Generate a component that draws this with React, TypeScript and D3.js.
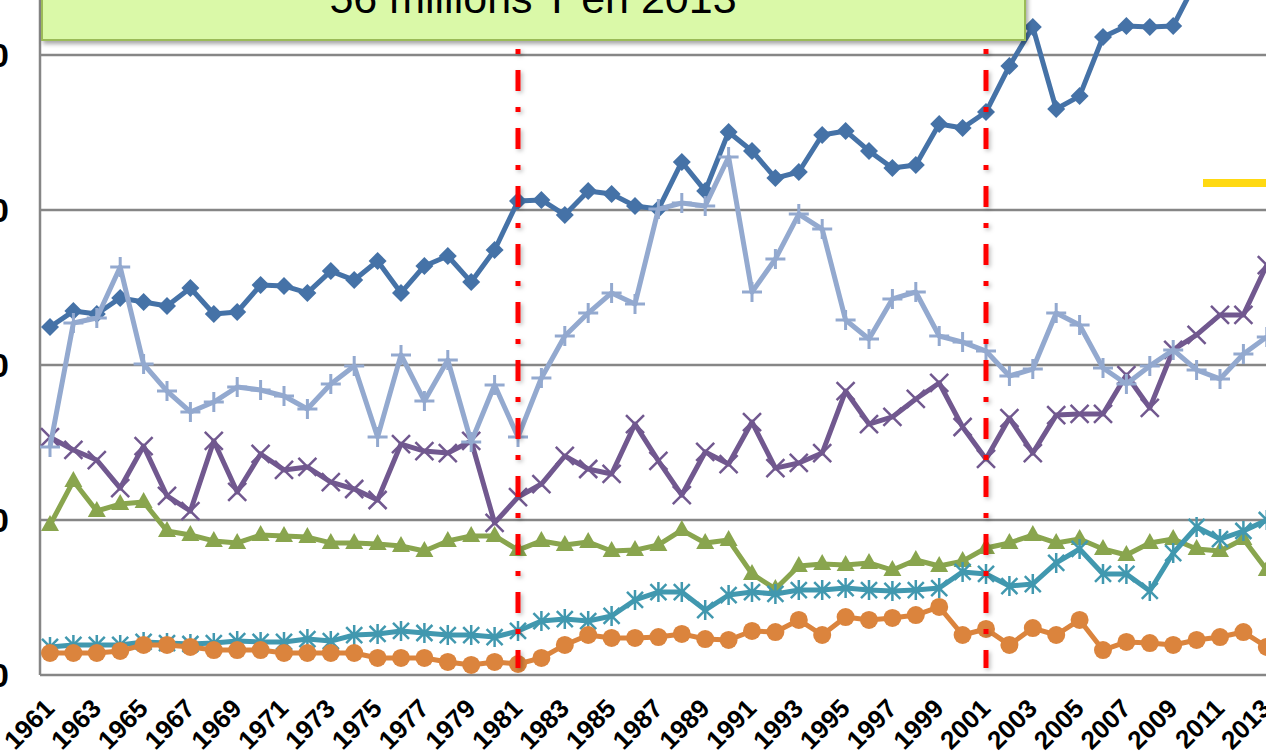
import * as React from 'react';
import * as d3 from 'd3';

// years 1961..2013
const years: number[] = d3.range(1961, 2014);

// values (millions T)
const serieBleu = [22.45, 23.48, 23.29, 24.32, 24.06, 23.81, 24.97, 23.29, 23.42, 25.16,
  25.10, 24.65, 26.06, 25.48, 26.71, 24.65, 26.39, 27.03, 25.35, 27.42,
  30.58, 30.65, 29.68, 31.23, 31.03, 30.26, 30.06, 33.10, 31.23, 35.03,
  33.81, 32.06, 32.45, 34.84, 35.10, 33.81, 32.71, 32.90, 35.55, 35.29,
  36.32, 39.29, 41.81, 36.52, 37.35, 41.16, 41.87, 41.81, 41.87, 44.8,
  46.5, 50.5, 56];
const serieVert = [9.68, 12.52, 10.58, 11.03, 11.16, 9.29, 9.03, 8.65, 8.52, 9.03,
  8.97, 8.90, 8.52, 8.52, 8.45, 8.32, 8.0, 8.65, 8.97, 8.97,
  8.06, 8.65, 8.39, 8.58, 8.0, 8.06, 8.39, 9.35, 8.52, 8.71,
  6.52, 5.55, 7.03, 7.16, 7.10, 7.23, 6.77, 7.42, 7.03, 7.35,
  8.19, 8.52, 9.03, 8.52, 8.77, 8.13, 7.74, 8.52, 8.77, 8.13,
  8.0, 8.77, 6.77];
const serieViolet = [15.35, 14.52, 13.87, 12.06, 14.77, 11.55, 10.58, 15.10, 11.81, 14.26,
  13.23, 13.42, 12.45, 12.0, 11.29, 14.90, 14.45, 14.32, 15.10, 9.81,
  11.48, 12.32, 14.13, 13.29, 12.97, 16.19, 13.81, 11.61, 14.39, 13.61,
  16.32, 13.35, 13.68, 14.32, 18.32, 16.19, 16.65, 17.81, 18.84, 16.0,
  13.94, 16.58, 14.32, 16.77, 16.84, 16.84, 19.35, 17.23, 20.97, 21.94,
  23.23, 23.23, 26.45];
const serieTurquoise = [1.81, 1.94, 1.94, 1.94, 2.13, 2.06, 2.0, 2.06, 2.19, 2.13,
  2.13, 2.32, 2.19, 2.58, 2.65, 2.84, 2.71, 2.58, 2.58, 2.45,
  2.84, 3.48, 3.61, 3.48, 3.81, 4.84, 5.35, 5.35, 4.19, 5.16,
  5.35, 5.23, 5.48, 5.48, 5.61, 5.48, 5.42, 5.48, 5.61, 6.65,
  6.52, 5.74, 5.87, 7.23, 8.13, 6.52, 6.52, 5.42, 7.87, 9.55,
  8.77, 9.29, 10.0];
const serieOrange = [1.42, 1.42, 1.42, 1.55, 1.94, 1.94, 1.81, 1.61, 1.61, 1.61,
  1.42, 1.42, 1.42, 1.42, 1.10, 1.10, 1.10, 0.84, 0.65, 0.84,
  0.71, 1.10, 1.94, 2.58, 2.39, 2.39, 2.45, 2.65, 2.32, 2.26,
  2.84, 2.77, 3.55, 2.58, 3.74, 3.55, 3.68, 3.87, 4.39, 2.58,
  2.97, 1.94, 3.03, 2.58, 3.55, 1.61, 2.13, 2.06, 1.94, 2.26,
  2.45, 2.77, 1.81];
const serieBleuClair = [14.71, 22.71, 23.03, 26.32, 20.06, 18.32, 16.97, 17.61, 18.58, 18.39,
  18.0, 17.16, 18.77, 19.94, 15.35, 20.65, 17.68, 20.32, 15.03, 18.71,
  15.35, 19.16, 21.87, 23.35, 24.65, 23.94, 30.06, 30.45, 30.26, 33.42,
  24.71, 26.84, 29.74, 28.77, 22.90, 21.68, 24.26, 24.71, 21.87, 21.48,
  20.90, 19.29, 19.74, 23.35, 22.58, 19.81, 18.77, 19.94, 20.97, 19.68,
  19.10, 20.71, 21.81];

const yTicks = [0, 10, 20, 30, 40];
const markYears = [1981, 2001];
const titre = '56 millions T en 2013';

const series = [
  { name: 'bleu', color: '#4572A7', marker: 'diamond', values: serieBleu },
  { name: 'vert', color: '#89A54E', marker: 'triangle', values: serieVert },
  { name: 'violet', color: '#71588F', marker: 'x', values: serieViolet },
  { name: 'turquoise', color: '#4198AF', marker: 'star', values: serieTurquoise },
  { name: 'orange', color: '#DB843D', marker: 'circle', values: serieOrange },
  { name: 'bleuClair', color: '#93A9CF', marker: 'plus', values: serieBleuClair },
];

function Marker({ type, x, y, color }: { type: string, x: number, y: number, color: string }) {
  const t = 'translate(' + x + ',' + y + ')';
  if (type === 'diamond') {
    return <path transform={t} d="M0,-9L9,0L0,9L-9,0Z" fill={color} />;
  }
  if (type === 'triangle') {
    return <path transform={t} d="M0,-10L9,6L-9,6Z" fill={color} />;
  }
  if (type === 'circle') {
    return <circle cx={x} cy={y} r={9} fill={color} />;
  }
  if (type === 'x') {
    return <path transform={t} d="M-9,-9L9,9M-9,9L9,-9" stroke={color} strokeWidth={2.5} fill="none" />;
  }
  if (type === 'star') {
    return <path transform={t} d="M-8,-8L8,8M-8,8L8,-8M0,-10L0,10" stroke={color} strokeWidth={2.5} fill="none" />;
  }
  return <path transform={t} d="M-10,0L10,0M0,-10L0,10" stroke={color} strokeWidth={3} fill="none" />;
}

export default function App() {
  const width = 1266;
  const height = 755;
  const plotLeft = 40;

  const xScale = d3.scalePoint<number>()
    .domain(years)
    .range([50, 1266.8]);

  const yScale = d3.scaleLinear()
    .domain([0, 40])
    .range([675, 55]);

  const line = d3.line<number>()
    .x((d, i) => xScale(years[i]) as number)
    .y((d) => yScale(d));

  const labelYears = years.filter((y) => (y - 1961) % 2 === 0);

  return (
    <svg width={width} height={height}
      style={{ position: 'absolute', left: 0, top: 0, overflow: 'hidden', background: '#fff' }}
      fontFamily="'Liberation Sans', Arial, sans-serif">
      <defs>
        <filter id="ombre" x="-10%" y="-50%" width="120%" height="200%">
          <feDropShadow dx="2" dy="3" stdDeviation="2" floodColor="#000" floodOpacity="0.35" />
        </filter>
        <filter id="ombreRouge" filterUnits="userSpaceOnUse" x="0" y="0" width={width} height={height}>
          <feDropShadow dx="2" dy="2" stdDeviation="2" floodColor="#000" floodOpacity="0.25" />
        </filter>
      </defs>

      {/* grid */}
      {yTicks.map((t) => (
        <line key={'g' + t} x1={plotLeft} x2={width} y1={yScale(t)} y2={yScale(t)}
          stroke="#868686" strokeWidth={2.5} />
      ))}
      <line x1={plotLeft} x2={plotLeft} y1={-10} y2={yScale(0)} stroke="#868686" strokeWidth={2.5} />

      {/* y labels, mostly cut off at the left */}
      {yTicks.map((t) => (
        <text key={'yl' + t} x={9} y={yScale(t)} dy="0.36em" textAnchor="end"
          fontSize={34} fontWeight="bold" fill="#000">{t}</text>
      ))}

      {/* x labels */}
      {labelYears.map((yr) => (
        <text key={'xl' + yr}
          transform={'translate(' + ((xScale(yr) as number) + 6) + ',710) rotate(-45)'}
          textAnchor="end" fontSize={26} fontWeight="bold" fill="#000">{yr}</text>
      ))}

      {/* series */}
      {series.map((s) => (
        <g key={s.name}>
          <path d={line(s.values) as string} fill="none" stroke={s.color} strokeWidth={5}
            strokeLinejoin="round" />
          {s.values.map((v, i) => (
            <Marker key={i} type={s.marker} x={xScale(years[i]) as number} y={yScale(v)} color={s.color} />
          ))}
        </g>
      ))}

      {/* red markers */}
      {markYears.map((yr) => (
        <line key={'r' + yr} x1={xScale(yr)} x2={xScale(yr)} y1={12} y2={668}
          stroke="#FF0000" strokeWidth={5} strokeDasharray="21,16,5,16" filter="url(#ombreRouge)" />
      ))}

      {/* yellow line on the right */}
      <line x1={1203} x2={1280} y1={183} y2={183} stroke="#FFD912" strokeWidth={8} />

      {/* title box */}
      <rect x={42} y={-60} width={983} height={100} fill="#DAF9A8" stroke="#9BBB59"
        strokeWidth={2} filter="url(#ombre)" />
      <text x={533} y={13} textAnchor="middle" fontSize={43} fill="#000">{titre}</text>
    </svg>
  );
}
